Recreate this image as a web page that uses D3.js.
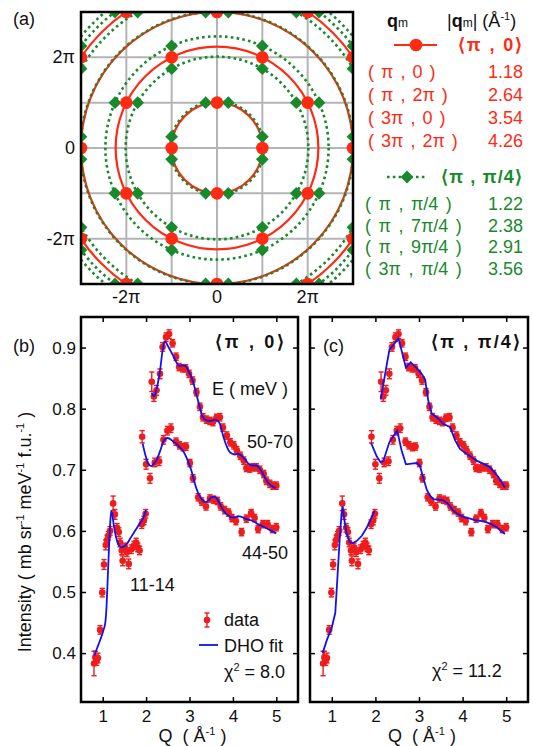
<!DOCTYPE html>
<html>
<head>
<meta charset="utf-8">
<script src="https://cdn.jsdelivr.net/npm/d3@7"></script>
<style>
  body { margin: 0; background: #fff; }
  text { font-family: "Liberation Sans", Arial, sans-serif; }
</style>
</head>
<body>
<svg id="fig" width="533" height="746"></svg>
<script>
// ---------- panel (a): wavevectors in units of pi ----------
const redQm = [[1, 0], [1, 2], [3, 0], [3, 2]];
const greenQm = [[1, 0.25], [1, 1.75], [1, 2.25], [3, 0.25]];
// higher harmonics that only show up in the corners
const greenExtra = [[3, 1.75], [3, 2.25], [1, 3.75]];
const redLabels = ["( π , 0 )", "( π , 2π )", "( 3π , 0 )", "( 3π , 2π )"];
const redMag = ["1.18", "2.64", "3.54", "4.26"];
const greenLabels = ["( π , π/4 )", "( π , 7π/4 )", "( π , 9π/4 )", "( 3π , π/4 )"];
const greenMag = ["1.22", "2.38", "2.91", "3.56"];
const piTicks = [-2, 0, 2];
const piTickText = ["-2π", "0", "2π"];

// ---------- panels (b),(c): Q (1/A), intensity, error ----------
const qTicks = [1, 2, 3, 4, 5];
const iTicks = [0.4, 0.5, 0.6, 0.7, 0.8, 0.9];

const data1114 = [
  [0.80,0.383,0.020],[0.83,0.393,0.010],[0.86,0.388,0.008],[0.89,0.392,0.008],
  [0.94,0.438,0.007],[0.99,0.499,0.007],[1.03,0.545,0.008],[1.07,0.577,0.008],
  [1.10,0.585,0.008],[1.13,0.592,0.007],[1.17,0.600,0.007],[1.24,0.645,0.012],
  [1.28,0.627,0.008],[1.33,0.605,0.007],[1.37,0.598,0.007],[1.40,0.581,0.007],
  [1.44,0.568,0.007],[1.46,0.551,0.008],[1.51,0.573,0.007],[1.56,0.565,0.007],
  [1.60,0.546,0.008],[1.66,0.570,0.007],[1.72,0.576,0.007],[1.77,0.581,0.007],
  [1.81,0.573,0.007],[1.85,0.568,0.007],[1.90,0.611,0.007],[1.95,0.617,0.007],
  [1.99,0.628,0.007]
];
const data4450 = [
  [1.91,0.754,0.010],[2.00,0.709,0.008],[2.09,0.686,0.008],[2.20,0.712,0.007],
  [2.30,0.714,0.007],[2.40,0.749,0.007],[2.49,0.764,0.007],[2.57,0.768,0.007],
  [2.69,0.746,0.006],[2.77,0.740,0.006],[2.85,0.737,0.006],[2.92,0.738,0.006],
  [3.01,0.711,0.006],[3.08,0.686,0.006],[3.20,0.655,0.006],[3.28,0.648,0.006],
  [3.38,0.640,0.006],[3.47,0.653,0.006],[3.56,0.651,0.006],[3.64,0.649,0.006],
  [3.72,0.640,0.006],[3.81,0.634,0.006],[3.90,0.630,0.006],[3.98,0.621,0.006],
  [4.07,0.616,0.006],[4.20,0.598,0.006],[4.31,0.620,0.006],[4.42,0.629,0.006],
  [4.50,0.621,0.006],[4.58,0.603,0.006],[4.69,0.611,0.006],[4.80,0.611,0.006],
  [4.91,0.603,0.006],[5.00,0.606,0.006]
];
const data5070 = [
  [2.13,0.844,0.016],[2.18,0.820,0.008],[2.24,0.830,0.008],[2.32,0.857,0.008],
  [2.38,0.901,0.007],[2.46,0.917,0.007],[2.53,0.922,0.007],[2.61,0.907,0.006],
  [2.69,0.885,0.006],[2.76,0.868,0.006],[2.84,0.866,0.006],[2.91,0.866,0.006],
  [2.99,0.857,0.006],[3.07,0.846,0.006],[3.16,0.827,0.006],[3.24,0.803,0.006],
  [3.31,0.786,0.006],[3.39,0.782,0.006],[3.47,0.780,0.006],[3.54,0.778,0.006],
  [3.62,0.785,0.006],[3.70,0.786,0.006],[3.77,0.769,0.006],[3.86,0.756,0.006],
  [3.94,0.745,0.006],[4.02,0.740,0.006],[4.09,0.732,0.006],[4.17,0.723,0.006],
  [4.25,0.715,0.006],[4.31,0.703,0.006],[4.39,0.702,0.006],[4.46,0.704,0.006],
  [4.54,0.704,0.006],[4.62,0.700,0.006],[4.71,0.693,0.006],[4.77,0.682,0.006],
  [4.85,0.677,0.006],[4.92,0.674,0.006],[5.00,0.674,0.006]
];

// DHO fits, <pi,0> model
const fitB1114 = [
  [0.81,0.396],[0.87,0.408],[0.94,0.421],[1.02,0.438],[1.06,0.450],[1.09,0.478],
  [1.12,0.530],[1.15,0.580],[1.18,0.620],[1.20,0.633],[1.22,0.628],[1.25,0.612],
  [1.30,0.592],[1.36,0.578],[1.42,0.573],[1.48,0.574],[1.55,0.578],[1.63,0.587],
  [1.70,0.595],[1.78,0.604],[1.86,0.613],[1.93,0.621],[2.00,0.634]
];
const fitB4450 = [
  [1.92,0.743],[1.98,0.725],[2.05,0.710],[2.12,0.706],[2.18,0.710],[2.24,0.716],
  [2.32,0.730],[2.41,0.748],[2.49,0.752],[2.56,0.750],[2.63,0.746],[2.69,0.743],
  [2.77,0.737],[2.86,0.730],[2.96,0.715],[3.05,0.697],[3.12,0.678],[3.20,0.662],
  [3.28,0.652],[3.35,0.647],[3.44,0.650],[3.50,0.655],[3.58,0.656],[3.64,0.652],
  [3.70,0.644],[3.76,0.636],[3.83,0.629],[3.90,0.625],[3.97,0.622],[4.05,0.622],
  [4.12,0.624],[4.20,0.623],[4.28,0.620],[4.43,0.617],[4.58,0.611],[4.73,0.606],
  [4.89,0.600],[5.00,0.596]
];
const fitB5070 = [
  [2.13,0.826],[2.18,0.820],[2.24,0.832],[2.32,0.862],[2.38,0.895],[2.43,0.910],
  [2.50,0.903],[2.56,0.895],[2.63,0.886],[2.69,0.877],[2.76,0.870],[2.84,0.871],
  [2.92,0.869],[2.99,0.860],[3.07,0.847],[3.16,0.823],[3.24,0.802],[3.30,0.787],
  [3.39,0.781],[3.50,0.780],[3.58,0.782],[3.64,0.781],[3.70,0.775],[3.77,0.757],
  [3.86,0.738],[3.96,0.727],[4.05,0.725],[4.12,0.726],[4.20,0.723],[4.28,0.717],
  [4.36,0.710],[4.45,0.707],[4.54,0.707],[4.63,0.701],[4.71,0.691],[4.81,0.679],
  [4.89,0.674],[4.98,0.670]
];
// DHO fits, <pi,pi/4> model
const fitC1114 = [
  [0.79,0.400],[0.88,0.420],[1.00,0.442],[1.08,0.466],[1.13,0.525],[1.18,0.585],
  [1.22,0.625],[1.25,0.640],[1.29,0.617],[1.34,0.595],[1.42,0.581],[1.49,0.580],
  [1.58,0.584],[1.69,0.592],[1.80,0.605],[1.90,0.620],[1.98,0.633]
];
const fitC4450 = [
  [1.90,0.744],[2.03,0.722],[2.12,0.712],[2.18,0.714],[2.32,0.745],[2.41,0.755],
  [2.50,0.764],[2.60,0.732],[2.70,0.709],[2.83,0.710],[2.95,0.711],[3.02,0.707],
  [3.10,0.686],[3.18,0.667],[3.25,0.658],[3.33,0.652],[3.44,0.651],[3.56,0.650],
  [3.67,0.644],[3.79,0.633],[3.90,0.627],[4.02,0.623],[4.17,0.620],[4.32,0.617],
  [4.47,0.616],[4.63,0.612],[4.78,0.606],[4.97,0.595]
];
const fitC5070 = [
  [2.12,0.815],[2.32,0.896],[2.53,0.915],[2.70,0.867],[2.81,0.876],[2.91,0.869],
  [3.06,0.857],[3.14,0.848],[3.21,0.814],[3.29,0.792],[3.41,0.786],[3.56,0.775],
  [3.71,0.770],[3.83,0.748],[3.94,0.734],[4.09,0.726],[4.32,0.715],[4.47,0.710],
  [4.63,0.704],[4.82,0.688],[4.97,0.671]
];

const RED = "#ff2a14", GREEN = "#188a2c", DRED = "#ee1c1c", BLUE = "#1212ee";
const svg = d3.select("#fig");

function txt(g, x, y, s, size, fill, anchor, weight) {
  return g.append("text").attr("x", x).attr("y", y).text(s)
    .attr("font-size", size).attr("fill", fill || "#111")
    .attr("text-anchor", anchor || "start")
    .attr("font-weight", weight || "normal");
}

// ---------- panel (a) ----------
const ax = d3.scaleLinear().domain([-3, 3]).range([81, 353]);
const ay = d3.scaleLinear().domain([-3, 3]).range([284, 12]);
const ga = svg.append("g");
svg.append("defs").append("clipPath").attr("id", "clipA").append("rect")
  .attr("x", ax(-3)).attr("y", ay(3))
  .attr("width", ax(3) - ax(-3)).attr("height", ay(-3) - ay(3));
const inner = ga.append("g").attr("clip-path", "url(#clipA)");

const grid = d3.range(-3, 4);
inner.selectAll(".gx").data(grid).join("line")
  .attr("x1", d => ax(d)).attr("x2", d => ax(d)).attr("y1", ay(-3)).attr("y2", ay(3))
  .attr("stroke", "#b4b4b4").attr("stroke-width", 2);
inner.selectAll(".gy").data(grid).join("line")
  .attr("y1", d => ay(d)).attr("y2", d => ay(d)).attr("x1", ax(-3)).attr("x2", ax(3))
  .attr("stroke", "#b4b4b4").attr("stroke-width", 2);

const radius = v => ax(Math.hypot(v[0], v[1])) - ax(0);
inner.selectAll(".rc").data(redQm).join("circle")
  .attr("cx", ax(0)).attr("cy", ay(0)).attr("r", radius)
  .attr("fill", "none").attr("stroke", RED).attr("stroke-width", 2.2);
inner.selectAll(".gc").data(greenQm.concat(greenExtra)).join("circle")
  .attr("cx", ax(0)).attr("cy", ay(0)).attr("r", radius)
  .attr("fill", "none").attr("stroke", GREEN).attr("stroke-width", 2.6)
  .attr("stroke-dasharray", "2.6,3.2");

// all symmetry-equivalent positions of a list of wavevectors
function images(list) {
  const out = [], seen = new Set();
  list.forEach(([a, b]) => {
    for (const sa of [1, -1]) for (const sb of [1, -1]) {
      for (const p of [[sa * a, sb * b], [sb * b, sa * a]]) {
        const k = p.join();
        if (!seen.has(k)) { seen.add(k); out.push(p); }
      }
    }
  });
  return out;
}
const diamond = d3.symbol(d3.symbolSquare, 82);
inner.selectAll(".gd").data(images(greenQm.concat(greenExtra))).join("path")
  .attr("d", diamond)
  .attr("transform", d => `translate(${ax(d[0])},${ay(d[1])}) rotate(45)`)
  .attr("fill", GREEN);
inner.selectAll(".rd").data(images(redQm)).join("circle")
  .attr("cx", d => ax(d[0])).attr("cy", d => ay(d[1])).attr("r", 6.3)
  .attr("fill", RED);

ga.append("rect").attr("x", ax(-3)).attr("y", ay(3))
  .attr("width", ax(3) - ax(-3)).attr("height", ay(-3) - ay(3))
  .attr("fill", "none").attr("stroke", "#000").attr("stroke-width", 2.5);

piTicks.forEach((t, i) => {
  txt(ga, 75, ay(t) + 6, piTickText[i], 18, "#111", "end");
  txt(ga, ax(t), 303, piTickText[i], 18, "#111", "middle");
});
txt(ga, 13, 25, "(a)", 18);

// legend of (a)
const lg = svg.append("g");
const h1 = lg.append("text").attr("x", 387).attr("y", 27).attr("font-size", 18).attr("fill", "#111");
h1.append("tspan").attr("font-weight", "bold").text("q");
h1.append("tspan").attr("font-size", 12).text("m");
const h2 = lg.append("text").attr("x", 447).attr("y", 27).attr("font-size", 18).attr("fill", "#111");
h2.append("tspan").text("|");
h2.append("tspan").attr("font-weight", "bold").text("q");
h2.append("tspan").attr("font-size", 12).text("m");
h2.append("tspan").text("| (Å");
h2.append("tspan").attr("font-size", 11).attr("dy", -7).text("-1");
h2.append("tspan").attr("dy", 7).text(")");

lg.append("line").attr("x1", 394).attr("x2", 437).attr("y1", 45).attr("y2", 45)
  .attr("stroke", RED).attr("stroke-width", 2.2);
lg.append("circle").attr("cx", 416).attr("cy", 45).attr("r", 6.3).attr("fill", RED);
txt(lg, 458, 51, "⟨π , 0⟩", 18, RED, "start", "bold").attr("textLength", 64);
redLabels.forEach((s, i) => {
  txt(lg, 368, 78 + i * 23, s, 18, RED).attr("word-spacing", 2);
  txt(lg, 523, 78 + i * 23, redMag[i], 18, RED, "end");
});

lg.append("line").attr("x1", 387).attr("x2", 427).attr("y1", 177).attr("y2", 177)
  .attr("stroke", GREEN).attr("stroke-width", 2.6).attr("stroke-dasharray", "2.6,3.2");
lg.append("path").attr("d", diamond).attr("transform", "translate(407,177) rotate(45)").attr("fill", GREEN);
txt(lg, 441, 183, "⟨π , π/4⟩", 18, GREEN, "start", "bold").attr("textLength", 81);
greenLabels.forEach((s, i) => {
  txt(lg, 365, 210 + i * 21.7, s, 18, GREEN).attr("word-spacing", 2.5);
  txt(lg, 523, 210 + i * 21.7, greenMag[i], 18, GREEN, "end");
});

// ---------- panels (b) and (c) ----------
function panel(x0, x1, fits, curve, yLabels) {
  const x = d3.scaleLinear().domain([0.5, 5.5]).range([x0, x1]);
  const y = d3.scaleLinear().domain([0.32, 0.95]).range([702, 317]);
  const g = svg.append("g");

  const style = a => a.attr("font-size", 17).attr("font-family", "Liberation Sans, Arial, sans-serif");
  g.append("g").attr("transform", `translate(0,${y(0.32)})`)
    .call(d3.axisBottom(x).tickValues(qTicks).tickSize(-5).tickPadding(8).tickFormat(d3.format("d"))).call(style);
  g.append("g").attr("transform", `translate(0,${y(0.95)})`)
    .call(d3.axisTop(x).tickValues(qTicks).tickSize(-5).tickFormat(""));
  g.append("g").attr("transform", `translate(${x0},0)`)
    .call(d3.axisLeft(y).tickValues(iTicks).tickSize(-5).tickPadding(5)
      .tickFormat(yLabels ? d3.format(".1f") : () => "")).call(style);
  g.append("g").attr("transform", `translate(${x1},0)`)
    .call(d3.axisRight(y).tickValues(iTicks).tickSize(-5).tickFormat(""));
  g.selectAll(".domain").remove();
  g.selectAll(".tick line").attr("stroke", "#000").attr("stroke-width", 1.5);
  g.selectAll(".tick text").attr("fill", "#111");

  // data with error bars
  [data1114, data4450, data5070].forEach(s => {
    const p = g.append("g").selectAll("g").data(s).join("g").attr("fill", DRED).attr("stroke", DRED);
    p.append("line").attr("x1", d => x(d[0])).attr("x2", d => x(d[0]))
      .attr("y1", d => y(d[1] - d[2])).attr("y2", d => y(d[1] + d[2])).attr("stroke-width", 1.4);
    p.append("line").attr("x1", d => x(d[0]) - 2.6).attr("x2", d => x(d[0]) + 2.6)
      .attr("y1", d => y(d[1] - d[2])).attr("y2", d => y(d[1] - d[2])).attr("stroke-width", 1.4);
    p.append("line").attr("x1", d => x(d[0]) - 2.6).attr("x2", d => x(d[0]) + 2.6)
      .attr("y1", d => y(d[1] + d[2])).attr("y2", d => y(d[1] + d[2])).attr("stroke-width", 1.4);
    p.append("circle").attr("cx", d => x(d[0])).attr("cy", d => y(d[1])).attr("r", 3.3).attr("stroke", "none");
  });

  const line = d3.line().x(d => x(d[0])).y(d => y(d[1])).curve(curve);
  fits.forEach(f => g.append("path").attr("d", line(f))
    .attr("fill", "none").attr("stroke", BLUE).attr("stroke-width", 1.8));

  g.append("rect").attr("x", x0).attr("y", y(0.95))
    .attr("width", x1 - x0).attr("height", y(0.32) - y(0.95))
    .attr("fill", "none").attr("stroke", "#000").attr("stroke-width", 2.5);

  const xl = g.append("text").attr("x", (x0 + x1) / 2 + 3).attr("y", 742)
    .attr("font-size", 18).attr("fill", "#111").attr("text-anchor", "middle")
    .style("white-space", "pre");
  xl.append("tspan").text("Q  ( Å");
  xl.append("tspan").attr("font-size", 11).attr("dy", -7).text("-1");
  xl.append("tspan").attr("dy", 7).text(" )");
  return g;
}

const gb = panel(81, 298, [fitB1114, fitB4450, fitB5070], d3.curveMonotoneX, true);
const gc = panel(310, 528, [fitC1114, fitC4450, fitC5070], d3.curveLinear, false);

txt(gb, 13, 352, "(b)", 18);
txt(gb, 215, 348, "⟨π , 0⟩", 18, "#111", "start", "bold").attr("textLength", 69);
txt(gb, 212, 395, "E ( meV )", 18);
txt(gb, 247, 448, "50-70", 18);
txt(gb, 242, 559, "44-50", 18);
txt(gb, 130, 591, "11-14", 18);

// legend of (b)
gb.append("line").attr("x1", 207).attr("x2", 207).attr("y1", 613).attr("y2", 627).attr("stroke", DRED).attr("stroke-width", 1.4);
gb.append("line").attr("x1", 204.4).attr("x2", 209.6).attr("y1", 613).attr("y2", 613).attr("stroke", DRED).attr("stroke-width", 1.4);
gb.append("line").attr("x1", 204.4).attr("x2", 209.6).attr("y1", 627).attr("y2", 627).attr("stroke", DRED).attr("stroke-width", 1.4);
gb.append("circle").attr("cx", 207).attr("cy", 620).attr("r", 3.3).attr("fill", DRED);
txt(gb, 224, 626, "data", 18);
gb.append("line").attr("x1", 199).attr("x2", 218).attr("y1", 645).attr("y2", 645).attr("stroke", BLUE).attr("stroke-width", 1.8);
txt(gb, 224, 652, "DHO fit", 18);
const chiB = gb.append("text").attr("x", 224).attr("y", 678).attr("font-size", 18).attr("fill", "#111");
chiB.append("tspan").text("χ");
chiB.append("tspan").attr("font-size", 11).attr("dy", -7).text("2");
chiB.append("tspan").attr("dy", 7).text(" = 8.0");

txt(gc, 323, 352, "(c)", 18);
txt(gc, 431, 348, "⟨π , π/4⟩", 18, "#111", "start", "bold").attr("textLength", 89);
const chiC = gc.append("text").attr("x", 432).attr("y", 677).attr("font-size", 18).attr("fill", "#111");
chiC.append("tspan").text("χ");
chiC.append("tspan").attr("font-size", 11).attr("dy", -7).text("2");
chiC.append("tspan").attr("dy", 7).text(" = 11.2");

// y axis title
const yt = svg.append("text").attr("transform", "translate(31,532) rotate(-90)")
  .attr("font-size", 18).attr("fill", "#111").attr("text-anchor", "middle");
yt.append("tspan").text("Intensity ( mb sr");
yt.append("tspan").attr("font-size", 11).attr("dy", -7).text("-1");
yt.append("tspan").attr("dy", 7).text(" meV");
yt.append("tspan").attr("font-size", 11).attr("dy", -7).text("-1");
yt.append("tspan").attr("dy", 7).text(" f.u.");
yt.append("tspan").attr("font-size", 11).attr("dy", -7).text("-1");
yt.append("tspan").attr("dy", 7).text(" )");
</script>
</body>
</html>
